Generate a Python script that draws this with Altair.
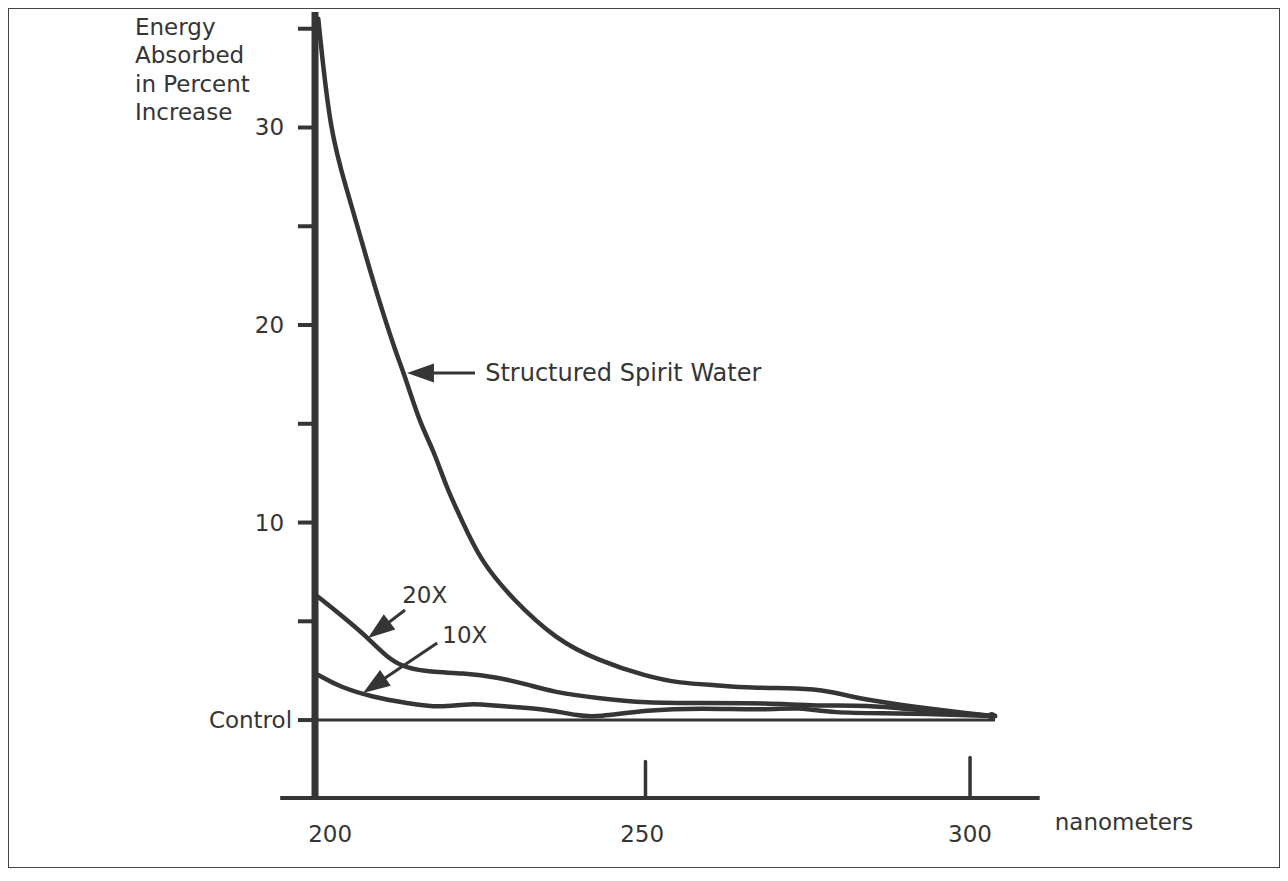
import altair as alt
import pandas as pd

# ---- data ----
ssw_nm  = [200.5, 202.3, 204.9, 207.3, 209.4, 212.2, 213.7, 216.0, 218.0, 220.1, 222.1, 225.1,
           230.1, 236.8, 242.9, 250.5, 255.6, 260.9, 266.2, 273.8, 277.9, 284.0, 291.6, 299.2, 303.5]
ssw_val = [35.5, 29.7, 26.8, 24.0, 21.6, 18.7, 17.4, 15.0, 13.7, 11.7, 10.3, 8.1,
           6.1, 4.05, 3.05, 2.2, 1.87, 1.77, 1.62, 1.62, 1.5, 1.0, 0.66, 0.35, 0.2]

x20_nm  = [200.5, 204.9, 208.4, 211.4, 214.0, 217.5, 222.5, 227.7, 232.7, 236.2, 242.9, 250.5,
           258.6, 268.8, 276.4, 284.0, 291.6, 299.2, 303.5]
x20_val = [6.23, 5.06, 4.05, 3.04, 2.63, 2.43, 2.38, 2.18, 1.77, 1.42, 1.11, 0.86,
           0.86, 0.86, 0.71, 0.76, 0.51, 0.30, 0.2]

x10_nm  = [200.5, 203.8, 208.8, 214.0, 219.0, 223.6, 227.7, 235.3, 240.3, 242.9, 250.5,
           258.6, 268.8, 273.8, 278.4, 289.0, 299.2, 303.5]
x10_val = [2.28, 1.67, 1.16, 0.86, 0.61, 0.86, 0.71, 0.56, 0.2, 0.15, 0.51,
           0.61, 0.51, 0.66, 0.35, 0.35, 0.25, 0.2]

ctrl_nm  = [200.0, 303.5]
ctrl_val = [0.0, 0.0]

y_ticks = [0, 5, 10, 15, 20, 25, 30, 35]
y_tick_labels = ["Control", "10", "20", "30"]
y_tick_label_vals = [0, 10, 20, 30]
x_tick_labels = ["200", "250", "300"]
x_tick_label_vals = [200, 250, 300]
title_lines = ["Energy", "Absorbed", "in Percent", "Increase"]

# ---- scales (plot area spans the whole frame) ----
XS = alt.Scale(domain=[153.27, 346.88], nice=False, zero=False)
YS = alt.Scale(domain=[-7.49, 36.05], nice=False, zero=False)
INK = "#353535"
FONT = "DejaVu Sans"

def X(f):
    return alt.X(f, type="quantitative", scale=XS, axis=None)

def Y(f):
    return alt.Y(f, type="quantitative", scale=YS, axis=None)

rows = []
for name, xs, ys in [("Structured Spirit Water", ssw_nm, ssw_val),
                     ("20X", x20_nm, x20_val),
                     ("10X", x10_nm, x10_val)]:
    for i, (a, b) in enumerate(zip(xs, ys)):
        rows.append({"series": name, "nm": a, "val": b, "order": i})
curves_df = pd.DataFrame(rows)

curves = alt.Chart(curves_df).mark_line(
    color=INK, strokeWidth=4.5, interpolate="basis", strokeCap="round", strokeJoin="round"
).encode(x=X("nm"), y=Y("val"), detail="series:N", order="order:Q")

control = alt.Chart(pd.DataFrame({"nm": ctrl_nm, "val": ctrl_val})).mark_line(
    color=INK, strokeWidth=3
).encode(x=X("nm"), y=Y("val"))

end_blob = alt.Chart(pd.DataFrame({"nm": [303.0], "val": [0.2]})).mark_point(
    shape="circle", filled=True, color=INK, opacity=1, size=70
).encode(x=X("nm"), y=Y("val"))

# axes drawn by hand-like rules
y_axis = alt.Chart(pd.DataFrame({"nm": [200.0], "y0": [-3.95], "y1": [35.85]})).mark_rule(
    color=INK, strokeWidth=7
).encode(x=X("nm"), y=Y("y0"), y2=alt.Y2("y1"))

x_axis = alt.Chart(pd.DataFrame({"x0": [194.7], "x1": [310.3], "v": [-3.95]})).mark_rule(
    color=INK, strokeWidth=4
).encode(x=X("x0"), x2=alt.X2("x1"), y=Y("v"))

ytick_df = pd.DataFrame({"v": y_ticks, "x0": [197.4] * len(y_ticks), "x1": [200.0] * len(y_ticks)})
y_tick_marks = alt.Chart(ytick_df).mark_rule(color=INK, strokeWidth=4).encode(
    x=X("x0"), x2=alt.X2("x1"), y=Y("v"))

xtick_df = pd.DataFrame({"nm": [250.3, 299.7], "y0": [-3.95, -3.95], "y1": [-2.1, -1.9]})
x_tick_marks = alt.Chart(xtick_df).mark_rule(color=INK, strokeWidth=3.5, strokeCap="round").encode(
    x=X("nm"), y=Y("y0"), y2=alt.Y2("y1"))

# tick labels
ylab_df = pd.DataFrame({"label": y_tick_labels, "v": y_tick_label_vals,
                        "xpos": [196.5, 195.3, 195.3, 195.3]})
y_labels = alt.Chart(ylab_df).mark_text(
    align="right", baseline="middle", font=FONT, fontSize=23, color=INK, dy=1
).encode(x=X("xpos"), y=Y("v"), text="label:N")

xlab_df = pd.DataFrame({"label": x_tick_labels, "v": x_tick_label_vals,
                        "xpos": [202.3, 249.8, 299.7], "ypos": [-5.8] * 3})
x_labels = alt.Chart(xlab_df).mark_text(
    align="center", baseline="middle", font=FONT, fontSize=23, color=INK
).encode(x=X("xpos"), y=Y("ypos"), text="label:N")

xtitle = alt.Chart(pd.DataFrame({"t": ["nanometers"], "xpos": [312.6], "ypos": [-5.2]})).mark_text(
    align="left", baseline="middle", font=FONT, fontSize=23, color=INK
).encode(x=X("xpos"), y=Y("ypos"), text="t:N")

ytitle_df = pd.DataFrame({"t": title_lines, "xpos": [172.6] * 4, "ypos": [34.68, 33.27, 31.80, 30.38]})
ytitle = alt.Chart(ytitle_df).mark_text(
    align="left", baseline="alphabetic", font=FONT, fontSize=23, color=INK
).encode(x=X("xpos"), y=Y("ypos"), text="t:N")

# annotations
ann_df = pd.DataFrame({
    "t": ["Structured Spirit Water", "20X", "10X"],
    "xpos": [225.9, 216.7, 222.8],
    "ypos": [17.52, 6.28, 4.25],
    "align": ["left", "center", "center"],
})
ann_left = alt.Chart(ann_df[ann_df["align"] == "left"]).mark_text(
    align="left", baseline="middle", font=FONT, fontSize=24, color=INK
).encode(x=X("xpos"), y=Y("ypos"), text="t:N")
ann_center = alt.Chart(ann_df[ann_df["align"] == "center"]).mark_text(
    align="center", baseline="middle", font=FONT, fontSize=23, color=INK
).encode(x=X("xpos"), y=Y("ypos"), text="t:N")

arrow_df = pd.DataFrame({
    "x0": [224.35, 213.7, 218.6], "y0": [17.57, 5.57, 3.90],
    "x1": [215.5, 209.5, 210.1], "y1": [17.57, 4.5, 2.0],
    "tx": [214.0, 208.07, 207.31], "ty": [17.57, 4.15, 1.37],
    "ang": [270, 233, 236],
})
arrow_lines = alt.Chart(arrow_df).mark_rule(color=INK, strokeWidth=3).encode(
    x=X("x0"), y=Y("y0"), x2=alt.X2("x1"), y2=alt.Y2("y1"))
arrow_heads = alt.Chart(arrow_df).mark_point(
    shape="M0,0L0.62,1.75L-0.62,1.75Z", filled=True, color=INK, opacity=1, size=950
).encode(x=X("tx"), y=Y("ty"), angle=alt.Angle("ang:Q", scale=None))

chart = alt.layer(
    control, curves, end_blob, y_axis, x_axis, y_tick_marks, x_tick_marks,
    y_labels, x_labels, xtitle, ytitle, ann_left, ann_center, arrow_lines, arrow_heads
).properties(width=1272, height=860, padding=0, background="white").configure_view(
    stroke="#444", strokeWidth=2
)

chart.save("out.html", embed_options={"renderer": "svg", "actions": False})
